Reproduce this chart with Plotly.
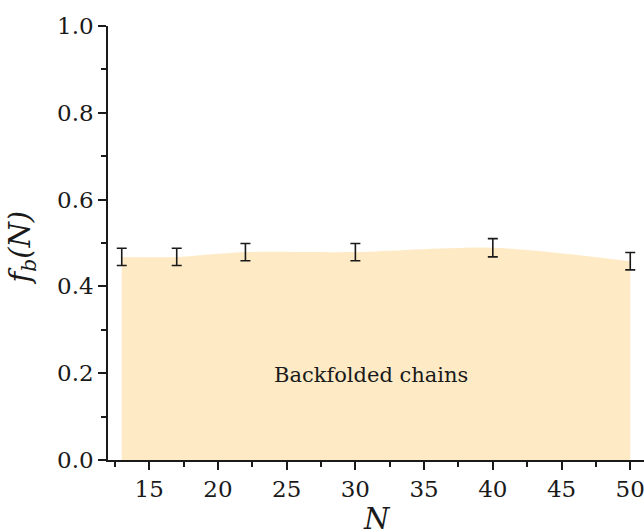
import plotly.graph_objects as go

N = [13, 17, 22, 30, 40, 50]
fb = [0.468, 0.468, 0.479, 0.479, 0.489, 0.458]
err = [0.020, 0.020, 0.020, 0.020, 0.021, 0.020]
x_ticks = [15, 20, 25, 30, 35, 40, 45, 50]
y_ticks = [0.0, 0.2, 0.4, 0.6, 0.8, 1.0]

FONT = "DejaVu Serif"
INK = "#1a1a1a"

fig = go.Figure()
fig.add_trace(go.Scatter(
    x=N, y=fb, mode="lines", line=dict(width=0, shape="spline", smoothing=0.8),
    fill="tozeroy", fillcolor="#FEEBC6", hoverinfo="skip", showlegend=False))
fig.add_trace(go.Scatter(
    x=N, y=fb, mode="markers",
    marker=dict(size=1, color="rgba(0,0,0,0)"),
    error_y=dict(type="data", array=err, visible=True, color=INK,
                 thickness=1.6, width=5),
    showlegend=False))

fig.add_annotation(x=31.1, y=0.197, xref="x", yref="y", text="Backfolded chains",
                   showarrow=False, font=dict(family=FONT, size=21, color=INK))
fig.add_annotation(x=-0.16, y=0.49, xref="paper", yref="paper",
                   text="<i>f<sub>b</sub>(N)</i>", textangle=-90, showarrow=False,
                   xanchor="center", yanchor="middle",
                   font=dict(family=FONT, size=29, color=INK))
fig.add_annotation(x=0.502, y=-0.092, xref="paper", yref="paper",
                   text="<i>N</i>", showarrow=False, xanchor="center", yanchor="top",
                   font=dict(family=FONT, size=29, color=INK))

axis_common = dict(showgrid=False, zeroline=False, showline=True, linecolor=INK,
                   linewidth=1.6, ticks="outside", tickcolor=INK, tickwidth=1.6,
                   ticklen=8, tickfont=dict(family=FONT, size=23, color=INK))

fig.update_layout(
    width=644, height=529,
    margin=dict(l=108, r=0, t=26, b=69),
    paper_bgcolor="white", plot_bgcolor="white",
    font=dict(family=FONT),
    xaxis=dict(range=[12, 51], tickvals=x_ticks, ticktext=[str(v) for v in x_ticks],
               ticklabeloverflow="allow",
               minor=dict(dtick=2.5, tick0=12.5, ticks="outside", ticklen=5,
                          tickcolor=INK, tickwidth=1.6),
               **axis_common),
    yaxis=dict(range=[0, 1], tickvals=y_ticks, ticktext=[f"{v:.1f}" for v in y_ticks],
               minor=dict(dtick=0.1, tick0=0, ticks="outside", ticklen=5,
                          tickcolor=INK, tickwidth=1.6),
               **axis_common),
)

fig.write_html("out.html")
